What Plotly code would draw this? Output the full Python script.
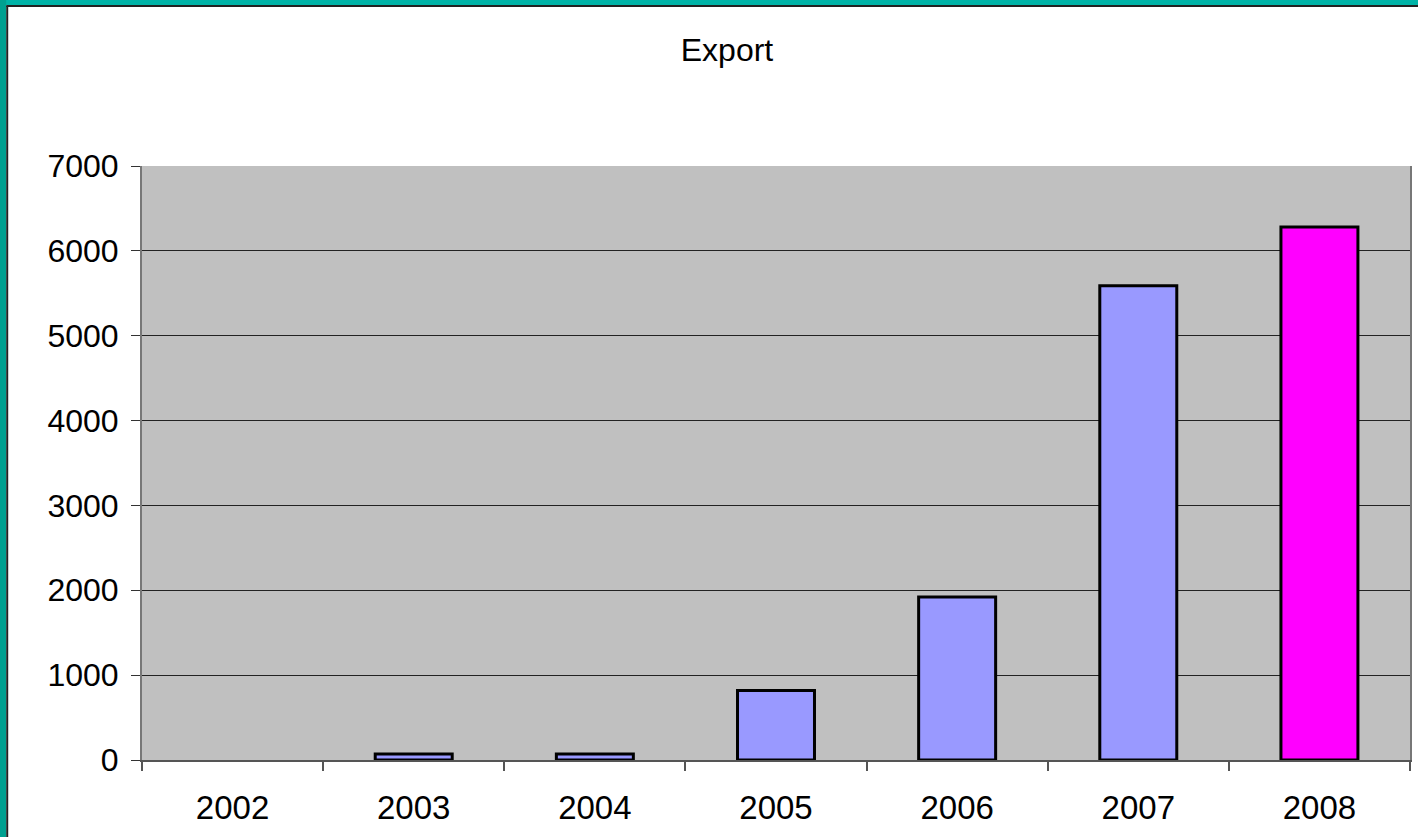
import plotly.graph_objects as go

years = ["2002", "2003", "2004", "2005", "2006", "2007", "2008"]
export_values = [0, 70, 70, 820, 1920, 5590, 6280]
bar_colors = ["#9999FF", "#9999FF", "#9999FF", "#9999FF", "#9999FF", "#9999FF", "#FF00FF"]
y_ticks = [0, 1000, 2000, 3000, 4000, 5000, 6000, 7000]

W, H = 1418, 837
L, R, T, B = 142, 6, 166, 77
pw, ph = W - L - R, H - T - B

def px_x(px):
    return (px - L) / pw

def px_y(py):
    return (H - B - py) / ph

outline_widths = [0 if v == 0 else 3 for v in export_values]

fig = go.Figure()
fig.add_trace(go.Bar(
    x=years, y=export_values,
    marker=dict(color=bar_colors, line=dict(color="black", width=outline_widths)),
    showlegend=False,
))

fig.update_layout(
    width=W, height=H,
    margin=dict(l=L, r=R, t=T, b=B),
    paper_bgcolor="white",
    plot_bgcolor="#C0C0C0",
    bargap=0.575,
    font=dict(family="Liberation Sans, Arial, sans-serif", size=31, color="black"),
    title=dict(text="Export", x=727 / W, xanchor="center", y=1 - 50 / H, yanchor="middle",
               font=dict(size=32, color="black")),
    xaxis=dict(
        showgrid=False, showline=True, linecolor="#555555", linewidth=2,
        ticks="outside", tickson="boundaries", ticklen=9, tickcolor="#555555", tickwidth=2,
        tickfont=dict(size=33), ticklabelstandoff=17,
    ),
    yaxis=dict(
        range=[0, 7000], tickvals=y_ticks,
        showgrid=True, gridcolor="#222222", gridwidth=1,
        showline=True, linecolor="#777777", linewidth=2, mirror=True,
        ticks="outside", ticklen=9, tickcolor="#333333",
        tickfont=dict(size=32), zeroline=False, ticklabelstandoff=6,
    ),
    shapes=[
        dict(type="rect", xref="paper", yref="paper", layer="below",
             x0=px_x(-5), x1=px_x(W + 5), y0=px_y(5), y1=px_y(-5),
             fillcolor="#00B3A7", line=dict(width=0)),
        dict(type="rect", xref="paper", yref="paper", layer="below",
             x0=px_x(-5), x1=px_x(6), y0=px_y(H + 5), y1=px_y(-5),
             fillcolor="#00A090", line=dict(width=0)),
        dict(type="line", xref="paper", yref="paper",
             x0=px_x(6), x1=px_x(W + 5), y0=px_y(6), y1=px_y(6),
             line=dict(color="#222222", width=2)),
        dict(type="line", xref="paper", yref="paper",
             x0=px_x(7), x1=px_x(7), y0=px_y(6), y1=px_y(H + 5),
             line=dict(color="#222222", width=2)),
    ],
)

fig.write_html("out.html", config={"displayModeBar": False},
               post_script="document.body.style.margin='0';document.body.style.overflow='hidden';")
